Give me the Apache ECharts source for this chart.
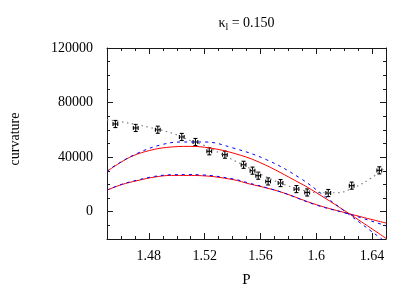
<!DOCTYPE html>
<html>
<head>
<meta charset="utf-8">
<script src="https://cdn.jsdelivr.net/npm/echarts@6/dist/echarts.min.js"></script>
<style>html,body{margin:0;padding:0;background:#fff}#c{width:415px;height:291px}</style>
</head>
<body>
<div id="c"></div>
<script>
// ---- data ----
const xTickLabels = [1.48, 1.52, 1.56, 1.6, 1.64];
const yTickLabels = [0, 40000, 80000, 120000];

// measured points with error bars
const ptX  = [1.456, 1.4706, 1.4864, 1.5036, 1.5134, 1.5233, 1.5345, 1.5479, 1.5543, 1.5584, 1.5655, 1.5744, 1.5858, 1.5935, 1.6086, 1.6254, 1.6452];
const ptY  = [64300, 61400, 60100, 54800, 51100, 44300, 41800, 34400, 30100, 26400, 22200, 21000, 16600, 14100, 13700, 19100, 30300];
const ptEx = [0.0017, 0.0017, 0.0017, 0.0017, 0.0017, 0.0017, 0.0017, 0.0017, 0.0017, 0.0017, 0.0017, 0.0017, 0.0017, 0.0017, 0.0017, 0.0017, 0.0017];
const ptEy = [2600, 2600, 2600, 2600, 2600, 2600, 2600, 2600, 2600, 2600, 2600, 2600, 2600, 2600, 2600, 2600, 2600];

// gray dotted fit curve
const fitX = [1.45, 1.4625, 1.4792, 1.4964, 1.5079, 1.5201, 1.5344, 1.5487, 1.5631, 1.5774, 1.5918, 1.6026, 1.6148, 1.6277, 1.6399, 1.65];
const fitY = [67400, 65500, 62100, 57700, 52800, 48400, 41000, 33700, 26000, 19800, 15400, 13900, 13900, 18000, 25000, 33000];

// upper red solid curve
const redUX = [1.45, 1.4591, 1.4687, 1.4806, 1.4926, 1.5093, 1.5237, 1.5404, 1.5596, 1.5883, 1.5967, 1.6237, 1.65];
const redUY = [29500, 35700, 41000, 44900, 47100, 47900, 46700, 43000, 36100, 21000, 16100, -1500, -19500];
// upper blue dashed curve
const bluUX = [1.45, 1.4555, 1.4722, 1.489, 1.5034, 1.5201, 1.5404, 1.5644, 1.5883, 1.6074, 1.6237, 1.6457, 1.65];
const bluUY = [29500, 33700, 43000, 49100, 51100, 51100, 46700, 38100, 24700, 10300, -2200, -19100, -22500];
// lower red solid curve
const redLX = [1.45, 1.4603, 1.4722, 1.4842, 1.4962, 1.5081, 1.5177, 1.5404, 1.5524, 1.5644, 1.5763, 1.6003, 1.6237, 1.65];
const redLY = [15800, 19800, 22900, 25400, 26600, 26600, 26400, 23500, 20300, 17400, 13900, 5100, -1500, -8300];
// lower blue dashed curve
const bluLX = [1.45, 1.4603, 1.4722, 1.4842, 1.4962, 1.5081, 1.5177, 1.5404, 1.5524, 1.5644, 1.5763, 1.6003, 1.6237, 1.65];
const bluLY = [15800, 20000, 23300, 25900, 27100, 27200, 27000, 24000, 20800, 17600, 13900, 4800, -1800, -10300];

// ---- chart ----
const FONT = 'Liberation Serif';
const zip = (xs, ys) => xs.map((x, i) => [x, ys[i]]);
const AX = '#1a1a1a';

function xAxisDef(pos, major, showLabel) {
  const a = {
    type: 'value', position: pos, min: 1.45, max: 1.65,
    splitLine: { show: false },
    axisLine: { show: major, onZero: false, lineStyle: { color: AX, width: 1 } },
    axisTick: { show: true, inside: true, length: major ? 6 : 3, lineStyle: { color: AX } },
    axisLabel: { show: false }
  };
  if (major) {
    a.axisTick.customValues = xTickLabels;
    if (showLabel) {
      a.axisLabel = { show: true, customValues: xTickLabels, fontFamily: FONT, fontSize: 14, color: '#000', margin: 10,
        formatter: v => String(+v.toFixed(2)) };
    }
  } else {
    a.interval = 0.01;
  }
  return a;
}
function yAxisDef(pos, major, showLabel) {
  const a = {
    type: 'value', position: pos, min: -20000, max: 120000,
    splitLine: { show: false },
    axisLine: { show: major, onZero: false, lineStyle: { color: AX, width: 1 } },
    axisTick: { show: true, inside: true, length: major ? 6 : 3, lineStyle: { color: AX } },
    axisLabel: { show: false }
  };
  if (major) {
    a.axisTick.customValues = yTickLabels;
    if (showLabel) {
      a.axisLabel = { show: true, customValues: yTickLabels, fontFamily: FONT, fontSize: 14, color: '#000', margin: 14,
        formatter: v => String(v) };
    }
  } else {
    a.interval = 10000;
  }
  return a;
}

const errData = ptX.map((x, i) => [x, ptY[i], ptEx[i], ptEy[i]]);

const chart = echarts.init(document.getElementById('c'), null, { renderer: 'canvas' });
chart.setOption({
  animation: false,
  backgroundColor: '#fff',
  grid: { left: 107, right: 29, top: 48, bottom: 52, containLabel: false },
  xAxis: [xAxisDef('bottom', true, true), xAxisDef('bottom', false), xAxisDef('top', true, false), xAxisDef('top', false)],
  yAxis: [yAxisDef('left', true, true), yAxisDef('left', false), yAxisDef('right', true, false), yAxisDef('right', false)],
  graphic: [
    { type: 'text', x: 246.5, y: 23, style: {
        text: '{a|κ}{s|l}{a| = 0.150}', textAlign: 'center', textVerticalAlign: 'middle',
        rich: { a: { fontFamily: FONT, fontSize: 14, fill: '#000' }, s: { fontFamily: FONT, fontSize: 10, fill: '#000', padding: [8, 0, 0, 0] } } } },
    { type: 'text', x: 246.5, y: 280, style: { text: 'P', fontFamily: FONT, fontSize: 15, fill: '#000', textAlign: 'center', textVerticalAlign: 'middle' } },
    { type: 'text', x: 15, y: 139, rotation: Math.PI / 2, style: { text: 'curvature', fontFamily: FONT, fontSize: 14, fill: '#000', textAlign: 'center', textVerticalAlign: 'middle' } }
  ],
  series: [
    { type: 'line', data: zip(fitX, fitY), smooth: 0.4, showSymbol: false, clip: true,
      lineStyle: { color: '#808080', width: 1.2, type: [1.5, 3.5] } },
    { type: 'line', data: zip(redUX, redUY), smooth: 0.4, showSymbol: false, clip: true,
      lineStyle: { color: '#ff0000', width: 1 } },
    { type: 'line', data: zip(redLX, redLY), smooth: 0.4, showSymbol: false, clip: true,
      lineStyle: { color: '#ff0000', width: 1 } },
    { type: 'line', data: zip(bluUX, bluUY), smooth: 0.4, showSymbol: false, clip: true,
      lineStyle: { color: '#0000ff', width: 1, type: [3, 4] } },
    { type: 'line', data: zip(bluLX, bluLY), smooth: 0.4, showSymbol: false, clip: true,
      lineStyle: { color: '#0000ff', width: 1, type: [3, 4] } },
    { type: 'custom', data: errData, encode: { x: 0, y: 1 }, clip: true,
      renderItem: function (params, api) {
        const x = api.value(0), y = api.value(1), ex = api.value(2), ey = api.value(3);
        const t = api.coord([x, y + ey]), b = api.coord([x, y - ey]);
        const l = api.coord([x - ex, y]), r = api.coord([x + ex, y]);
        const cap = 2;
        const st = { stroke: '#000', lineWidth: 1.1 };
        const line = (x1, y1, x2, y2) => ({ type: 'line', shape: { x1, y1, x2, y2 }, style: st });
        return { type: 'group', children: [
          line(t[0], t[1], b[0], b[1]),
          line(t[0] - cap, t[1], t[0] + cap, t[1]),
          line(b[0] - cap, b[1], b[0] + cap, b[1]),
          line(l[0], l[1], r[0], r[1]),
          line(l[0], l[1] - cap, l[0], l[1] + cap),
          line(r[0], r[1] - cap, r[0], r[1] + cap)
        ] };
      } }
  ]
});
</script>
</body>
</html>
